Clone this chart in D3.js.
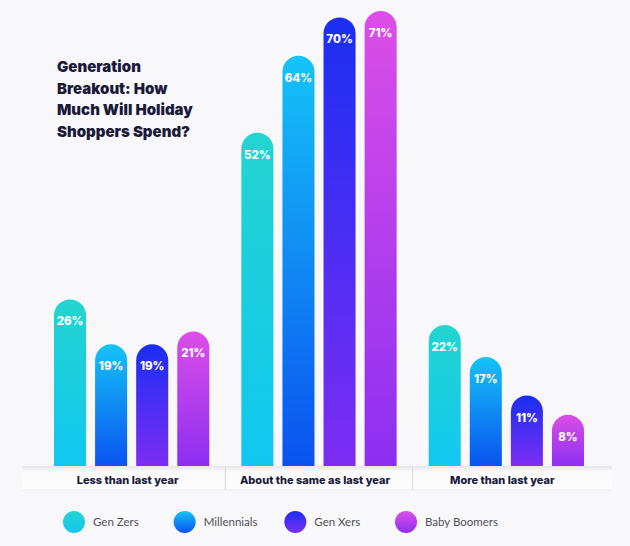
<!DOCTYPE html>
<html>
<head>
<meta charset="utf-8">
<script src="https://cdn.jsdelivr.net/npm/d3@7"></script>
<style>
  html, body { margin: 0; padding: 0; background: #f8f8fa; }
  svg { display: block; }
</style>
</head>
<body>
<svg id="chart"></svg>
<script>
var categories = ["Less than last year", "About the same as last year", "More than last year"];
var series = ["Gen Zers", "Millennials", "Gen Xers", "Baby Boomers"];
var genZ = [26, 52, 22];
var millennials = [19, 64, 17];
var genX = [19, 70, 11];
var boomers = [21, 71, 8];
var titleLines = ["Generation", "Breakout: How", "Much Will Holiday", "Shoppers Spend?"];

// colours, top -> bottom of each bar
var gradTop = ["#23d4cf", "#15c3f7", "#1a2ef2", "#dc4ee7"];
var gradBot = ["#11c7f1", "#0a52f0", "#7d2df4", "#8c2ff2"];

var values = [genZ, millennials, genX, boomers];

const width = 630, height = 546;
const heavy = "Inter, 'Noto Sans', sans-serif";
const svg = d3.select("#chart").attr("width", width).attr("height", height);

svg.append("rect").attr("width", width).attr("height", height).attr("fill", "#f8f8fa");

const defs = svg.append("defs");
series.forEach((s, i) => {
  const g = defs.append("linearGradient").attr("id", "g" + i)
    .attr("x1", 0).attr("x2", 0).attr("y1", 0).attr("y2", 1);
  g.append("stop").attr("offset", "0%").attr("stop-color", gradTop[i]);
  g.append("stop").attr("offset", "100%").attr("stop-color", gradBot[i]);
});
const sh = defs.append("linearGradient").attr("id", "shade")
  .attr("x1", 0).attr("x2", 0).attr("y1", 0).attr("y2", 1);
sh.append("stop").attr("offset", "0%").attr("stop-color", "#e6e6ea");
sh.append("stop").attr("offset", "25%").attr("stop-color", "#fbfbfc");
sh.append("stop").attr("offset", "100%").attr("stop-color", "#fdfdfd");

const baseY = 466;
const x0 = d3.scaleBand().domain(categories).range([54, 584]).paddingInner(0.171).paddingOuter(0);
const x1 = d3.scaleBand().domain(series).range([0, x0.bandwidth()]).paddingInner(0.22).paddingOuter(0);
const y = d3.scaleLinear().domain([0, 71]).range([baseY, 11]);

// baseline band
svg.append("rect").attr("x", 22).attr("y", baseY).attr("width", 590).attr("height", 24)
  .attr("fill", "url(#shade)");
svg.append("line").attr("x1", 22).attr("x2", 612).attr("y1", baseY + 24).attr("y2", baseY + 24)
  .attr("stroke", "#e9e9ec");
categories.slice(1).forEach(c => {
  const sx = x0(c) - (x0.step() - x0.bandwidth()) / 2;
  svg.append("line").attr("x1", sx).attr("x2", sx).attr("y1", baseY + 1).attr("y2", baseY + 24)
    .attr("stroke", "#d8d8dc");
});
svg.selectAll(".cat").data(categories).join("text")
  .attr("x", d => x0(d) + x0.bandwidth() / 2 - 4)
  .attr("y", baseY + 18)
  .attr("text-anchor", "middle")
  .attr("font-family", heavy)
  .attr("font-weight", 800)
  .attr("font-size", 11)
  .attr("fill", "#1b1b3d")
  .text(d => d);

function barPath(x, top, w) {
  const r = w / 2;
  return `M${x},${baseY}V${top + r}A${r},${r} 0 0 1 ${x + w},${top + r}V${baseY}Z`;
}

const rows = [];
series.forEach((s, si) => categories.forEach((c, ci) => rows.push({s, si, c, v: values[si][ci]})));

svg.selectAll(".bar").data(rows).join("path")
  .attr("d", d => barPath(x0(d.c) + x1(d.s), y(d.v), x1.bandwidth()))
  .attr("fill", d => `url(#g${d.si})`);

svg.selectAll(".val").data(rows).join("text")
  .attr("x", d => x0(d.c) + x1(d.s) + x1.bandwidth() / 2)
  .attr("y", d => y(d.v) + 26)
  .attr("text-anchor", "middle")
  .attr("font-family", heavy)
  .attr("font-weight", 800)
  .attr("font-size", 11.5)
  .attr("fill", "#ffffff")
  .text(d => d.v + "%");

// title
svg.append("text").attr("x", 57).attr("y", 72)
  .attr("font-family", heavy).attr("font-weight", 900).attr("font-size", 15)
  .attr("fill", "#1b1a3a")
  .selectAll("tspan").data(titleLines).join("tspan")
  .attr("x", 57).attr("dy", (d, i) => i ? 21.7 : 0).text(d => d);

// legend
const lx = d3.scalePoint().domain(series).range([74, 406]);
const lg = svg.selectAll(".leg").data(series).join("g")
  .attr("transform", d => `translate(${lx(d)},522)`);
lg.append("circle").attr("r", 11).attr("fill", (d, i) => `url(#g${i})`);
lg.append("text").attr("x", 19).attr("y", 4)
  .attr("font-family", "Lato").attr("font-size", 11.5).attr("fill", "#50505a")
  .text(d => d);
</script>
</body>
</html>
